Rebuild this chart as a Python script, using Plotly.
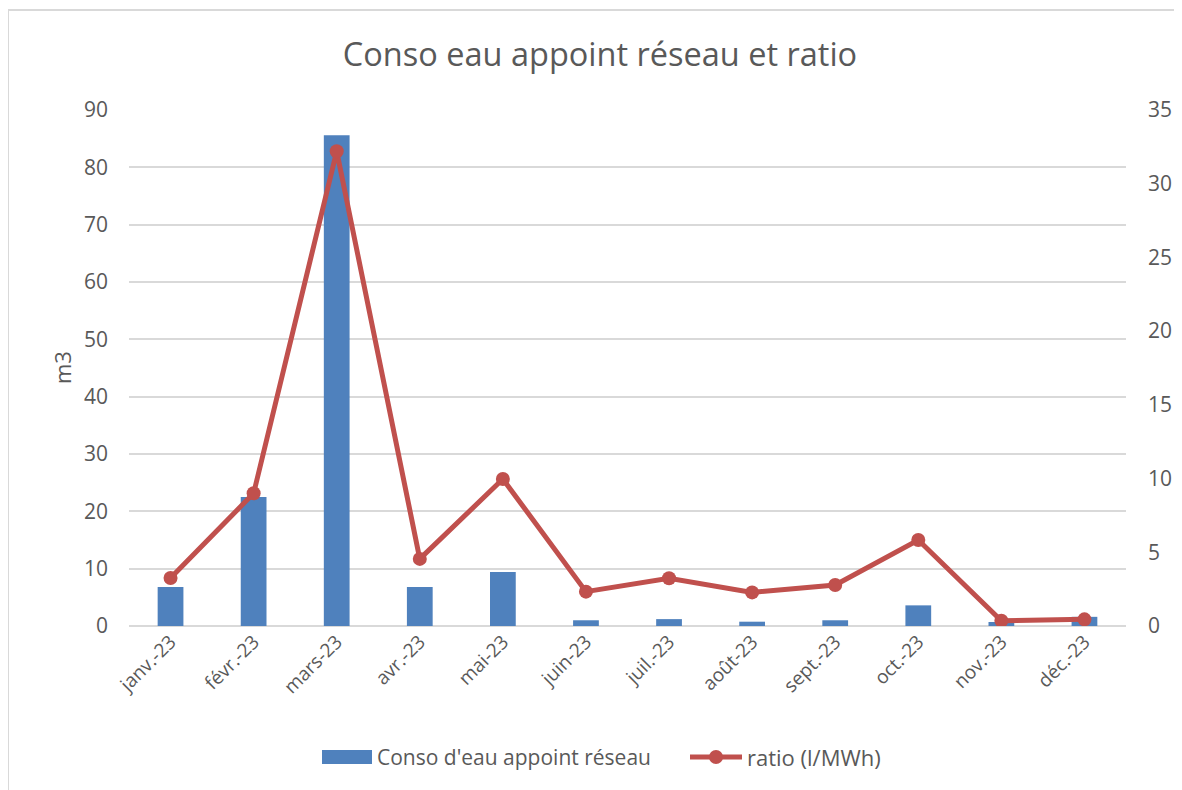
import plotly.graph_objects as go

months = ["janv.-23", "févr.-23", "mars-23", "avr.-23", "mai-23", "juin-23",
          "juil.-23", "août-23", "sept.-23", "oct.-23", "nov.-23", "déc.-23"]
conso = [6.8, 22.5, 85.6, 6.8, 9.4, 1.0, 1.2, 0.75, 1.0, 3.6, 0.7, 1.6]
ratio = [3.26, 9.0, 32.2, 4.55, 9.97, 2.33, 3.24, 2.28, 2.78, 5.83, 0.36, 0.45]
bar_name = "Conso d'eau appoint réseau"
line_name = "ratio (l/MWh)"

font_family = "Open Sans, Liberation Sans, sans-serif"
grey = "#595959"
blue = "#4f81bd"
red = "#c0504d"

OFF = 8  # page body margin
W, H = 1182 - OFF, 790 - OFF
# plot area in screen pixels: x 129..1126, y 110..626
L = 129 - OFF
T = 110 - OFF
R = W - (1126 - OFF)
B = H - (626 - OFF)
PW, PH = W - L - R, H - T - B


def px(xs):
    return (xs - OFF - L) / PW


def py(ys):
    return (H - B - (ys - OFF)) / PH


fig = go.Figure()
fig.add_trace(go.Bar(x=months, y=conso, name=bar_name, showlegend=False,
                     marker=dict(color=blue, line=dict(width=0)), width=0.31))
fig.add_trace(go.Scatter(x=months, y=ratio, name=line_name, yaxis="y2", showlegend=False,
                         mode="lines+markers",
                         line=dict(color=red, width=5),
                         marker=dict(color=red, size=14)))

fig.update_layout(
    width=W, height=H,
    paper_bgcolor="white", plot_bgcolor="white",
    margin=dict(l=L, r=R, t=T, b=B),
    font=dict(family=font_family, color=grey, size=20),
    title=dict(text="Conso eau appoint réseau et ratio", x=px(600), xanchor="center",
               y=1 - (55 - OFF) / H, yanchor="middle", xref="paper",
               font=dict(size=32.5, color=grey, family=font_family)),
    xaxis=dict(type="category", range=[-0.5, len(months) - 0.5], tickangle=-45,
               showgrid=False, showline=False,
               ticks="", tickfont=dict(size=19, color=grey), automargin=False),
    yaxis=dict(range=[0, 90], dtick=10, showgrid=True, gridcolor="#d9d9d9", gridwidth=1.5,
               zeroline=True, zerolinecolor="#d9d9d9", zerolinewidth=1.5,
               showline=False, ticks="", tickfont=dict(size=21, color=grey),
               ticklabelstandoff=20, automargin=False),
    yaxis2=dict(range=[0, 35], dtick=5, overlaying="y", side="right", showgrid=False,
                zeroline=False, showline=False, ticks="",
                tickfont=dict(size=21, color=grey), ticklabelstandoff=21, automargin=False),
    showlegend=False,
    bargap=0.69,
)

fig.add_annotation(text="m3", xref="paper", yref="paper",
                   x=px(62), y=py(368), showarrow=False,
                   textangle=-90, font=dict(size=22, color=grey),
                   xanchor="center", yanchor="middle")

# legend drawn manually
ly = py(757)
fig.add_shape(type="rect", xref="paper", yref="paper",
              x0=px(322), x1=px(372), y0=py(764), y1=py(750),
              fillcolor=blue, line=dict(width=0))
fig.add_annotation(text=bar_name, xref="paper", yref="paper", x=px(375), y=ly,
                   showarrow=False, xanchor="left", yanchor="middle",
                   font=dict(size=21, color=grey))
fig.add_shape(type="line", xref="paper", yref="paper",
              x0=px(690), x1=px(742), y0=ly, y1=ly,
              line=dict(color=red, width=5))
fig.add_shape(type="circle", xref="paper", yref="paper",
              x0=px(709), x1=px(723), y0=py(764), y1=py(750),
              fillcolor=red, line=dict(width=0))
fig.add_annotation(text=line_name, xref="paper", yref="paper", x=px(745), y=ly,
                   showarrow=False, xanchor="left", yanchor="middle",
                   font=dict(size=22, color=grey))

fig.add_shape(type="rect", xref="paper", yref="paper",
              x0=px(8), x1=1.2, y0=-0.5, y1=py(10),
              line=dict(color="#d9d9d9", width=2), fillcolor="rgba(0,0,0,0)", layer="below")

fig.write_html("out.html")
